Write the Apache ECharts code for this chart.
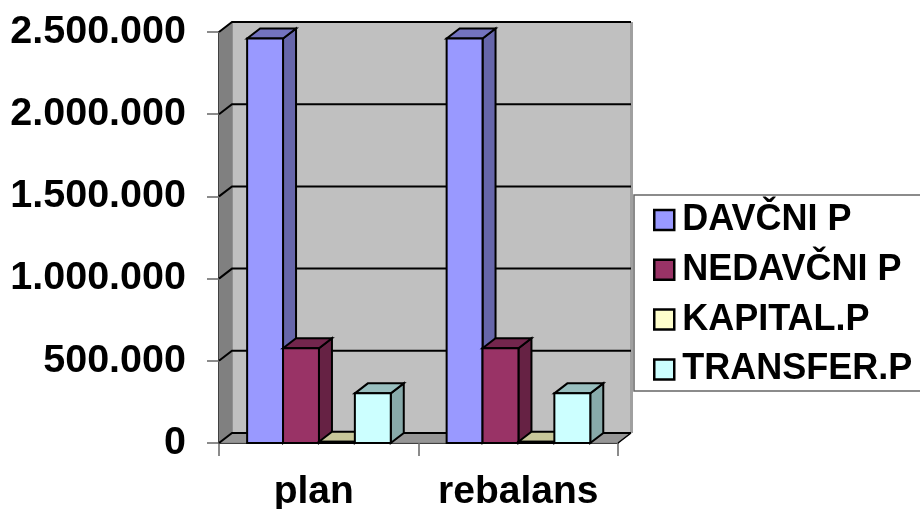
<!DOCTYPE html>
<html><head><meta charset="utf-8">
<style>html,body{margin:0;padding:0;background:#fff}#c{width:920px;height:509px}</style>
<script src="https://cdn.jsdelivr.net/npm/echarts@6/dist/echarts.min.js"></script>
</head><body><div id="c"></div>
<script>
const categories = ['plan', 'rebalans'];
const seriesNames = ['DAVČNI P', 'NEDAVČNI P', 'KAPITAL.P', 'TRANSFER.P'];
const davcni = [2460000, 2460000];
const nedavcni = [576000, 576000];
const kapital = [8000, 8000];
const transfer = [302000, 302000];
const yTicks = [0, 500000, 1000000, 1500000, 2000000, 2500000];
const yTickLabels = ['0', '500.000', '1.000.000', '1.500.000', '2.000.000', '2.500.000'];

const FONT = '"Liberation Sans", Arial, sans-serif';
const DX = 13, DY = 10;
const palette = [
  {front:'#9999FF', side:'#6666AA', top:'#7373BF'},
  {front:'#993366', side:'#662244', top:'#73264D'},
  {front:'#FFFFCC', side:'#AAAA88', top:'#C8C89A'},
  {front:'#CCFFFF', side:'#88AAAA', top:'#99BFBF'}
];
const poly = (pts, fill, stroke, w) => ({type:'polygon', shape:{points:pts},
  style:{fill, stroke:stroke||'#000', lineWidth:w==null?2:w, lineJoin:'miter'}});

function wallItem(params, api) {
  const cs = params.coordSys;
  const x0 = cs.x, x1 = cs.x + cs.width;
  const v = api.value(0);
  const y = api.coord([0, v])[1];
  const children = [];
  if (params.dataIndex === 0) {
    const yb = y, yt = cs.y;
    children.push(poly([[x0+DX,yt-DY],[x1+DX,yt-DY],[x1+DX,yb-DY],[x0+DX,yb-DY]], '#C0C0C0', '#808080', 1));
    children.push(poly([[x0,yt],[x0+DX,yt-DY],[x0+DX,yb-DY],[x0,yb]], '#808080', '#808080', 1));
    children.push(poly([[x0,yb],[x0+DX,yb-DY],[x1+DX,yb-DY],[x1,yb]], '#969696', '#808080', 1));
    children.push({type:'line', shape:{x1:x1+DX+1,y1:yt-DY,x2:x1+DX+1,y2:yb-DY}, style:{stroke:'#A0A0A0', lineWidth:2}});
    children.push({type:'line', shape:{x1:x1,y1:yb,x2:x1+DX,y2:yb-DY}, style:{stroke:'#000', lineWidth:1.5}});
  }
  children.push({type:'polyline', shape:{points:[[x0,y],[x0+DX,y-DY],[x1+DX,y-DY]]},
    style:{fill:null, stroke:'#000', lineWidth:2}});
  return {type:'group', children};
}
function barItem(sIdx) {
  return function(params, api) {
    const cat = api.value(0), val = api.value(1);
    const band = api.size([1, 0])[0];
    const w = band * 0.18;
    const c = api.coord([cat, val]), b = api.coord([cat, 0]);
    const xl = c[0] - 2 * w + sIdx * w + 0.2, xr = xl + w;
    const yt = c[1], yb = b[1];
    const p = palette[sIdx];
    return {type:'group', children:[
      poly([[xr,yt],[xr+DX,yt-DY],[xr+DX,yb-DY],[xr,yb]], p.side),
      poly([[xl,yt],[xl+DX,yt-DY],[xr+DX,yt-DY],[xr,yt]], p.top),
      poly([[xl,yt],[xr,yt],[xr,yb],[xl,yb]], p.front)
    ]};
  };
}
const values = [davcni, nedavcni, kapital, transfer];
const barSeries = seriesNames.map((name, i) => ({
  name, type:'custom', coordinateSystem:'cartesian2d', silent:true, animation:false, z:3+i,
  itemStyle:{color:palette[i].front},
  data: values[i].map((v, k) => [k, v]),
  encode:{x:0, y:1},
  renderItem: barItem(i)
}));

const chart = echarts.init(document.getElementById('c'), null, {renderer:'canvas'});
chart.setOption({
  backgroundColor:'#fff',
  animation:false,
  grid:{left:219, right:302, top:32, bottom:66, outerBoundsMode:'none'},
  legend:{
    data:seriesNames, orient:'vertical', left:634, top:195,
    backgroundColor:'#fff', borderColor:'#666', borderWidth:1.5,
    padding:[7,30,3.6,19], itemWidth:20, itemHeight:20, itemGap:13.8, selectedMode:false,
    icon:'rect',
    itemStyle:{borderColor:'#000', borderWidth:2.5},
    textStyle:{fontFamily:FONT, fontWeight:'bold', fontSize:36, lineHeight:36, color:'#000', padding:[0,0,0,3]}
  },
  xAxis:{type:'category', boundaryGap:true,
    data:categories.map((c,i)=> i===0 ? {value:c, textStyle:{padding:[0,10,0,0]}} : c),
    axisLine:{show:true, lineStyle:{color:'#000', width:2}},
    axisTick:{show:true, length:13, alignWithLabel:false, lineStyle:{color:'#666', width:1.5}},
    axisLabel:{interval:0, hideOverlap:false, fontFamily:FONT, fontWeight:'bold', fontSize:39, color:'#000', margin:30}
  },
  yAxis:{type:'value', min:0, max:2500000, interval:500000,
    axisLine:{show:true, lineStyle:{color:'#000', width:2}},
    axisTick:{show:true, length:12, lineStyle:{color:'#666', width:1.5}},
    splitLine:{show:false},
    axisLabel:{fontFamily:FONT, fontWeight:'bold', fontSize:39.5, color:'#000', margin:33,
      formatter:(v)=>yTickLabels[yTicks.indexOf(v)]}
  },
  series:[{
    name:'walls', type:'custom', coordinateSystem:'cartesian2d', silent:true, z:1,
    data:yTicks.map(v=>[v]), encode:{y:0}, renderItem:wallItem
  }].concat(barSeries)
});
</script></body></html>
